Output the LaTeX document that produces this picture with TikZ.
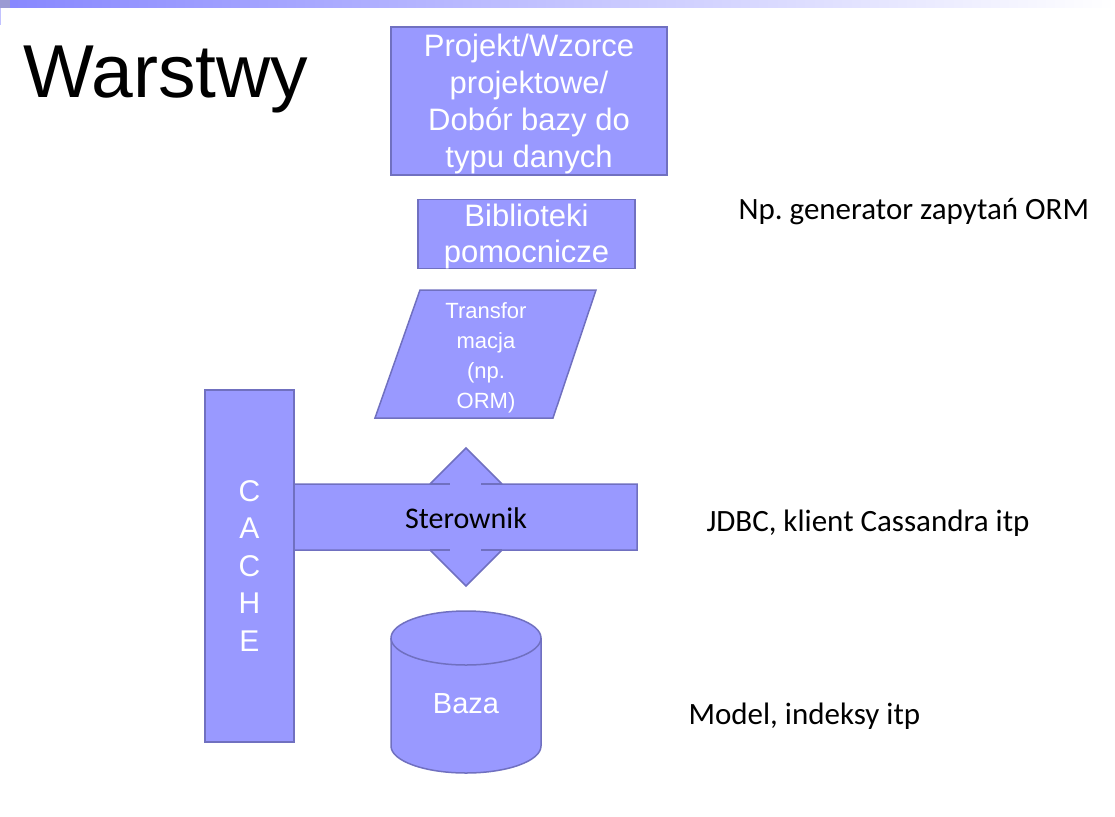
\documentclass[tikz,border=0pt]{standalone}
\usepackage{fontspec}
\setmainfont{Liberation Sans}
\newfontfamily\calibri{Carlito}
\usetikzlibrary{positioning}
\definecolor{warstwa}{RGB}{153,153,255}
\definecolor{ramka}{RGB}{112,112,192}
\tikzset{
    blok/.style={draw=ramka, fill=warstwa, line width=1.5pt, text=white, align=center, inner sep=0pt},
    napis/.style={text=white, align=center, inner sep=0pt},
    opis/.style={font=\calibri\fontsize{31}{36}\selectfont, anchor=west},
}
\frenchspacing
\begin{document}
\begin{tikzpicture}[x=1pt, y=-1pt]
    \useasboundingbox (0,0) rectangle (1115,816);
    % pasek u góry
    \shade[left color=warstwa!80!blue!90, right color=white] (10,0) rectangle (1115,8);
    \fill[ramka!70] (0,0) rectangle (10,8);
    \draw[warstwa!60, line width=1pt] (0.5,8) -- (0.5,25);

    % tytuł
    \node[anchor=base west, font=\fontsize{75}{75}\selectfont] (tytul) at (20,97) {Warstwy};

    % warstwy górne
    \node[blok, minimum width=276pt, minimum height=148pt] (projekt) at (529,101) {};
    \node[napis, font=\fontsize{31}{37}\selectfont] (projekt tekst) at (529,104)
        {Projekt/Wzorce\\projektowe/\\Dobór bazy do\\typu danych};
    \node[blok, minimum width=217pt, minimum height=69pt] (biblioteki) at (526.5,234) {};
    \node[napis, font=\fontsize{31}{36}\selectfont] (biblioteki tekst) at (526.5,236)
        {Biblioteki\\pomocnicze};

    % transformacja
    \draw[blok] (420,290) -- (596,290) -- (553,418) -- (375,418) -- cycle;
    \node[napis, font=\fontsize{22}{30}\selectfont] (transformacja) at (486,358)
        {Transfor\\macja\\(np.\\ORM)};

    % sterownik ze strzałką w obie strony
    \draw[blok] (294,484) -- (430,484) -- (466,448) -- (502,484) -- (637,484) -- (637,550)
        -- (502,550) -- (466,586) -- (430,550) -- (294,550) -- cycle;
    \foreach \y in {484,550} {
        \draw[ramka, line width=1.5pt] (430,\y) -- (450,\y);
        \draw[ramka, line width=1.5pt] (481,\y) -- (502,\y);
    }
    \node[font=\calibri\fontsize{30}{30}\selectfont] (sterownik) at (466,518) {Sterownik};

    % cache
    \node[blok, minimum width=89pt, minimum height=352pt, font=\fontsize{30}{37.5}\selectfont] (cache) at (249.5,566)
        {C\\A\\C\\H\\E};

    % baza
    \fill[warstwa] (391,638) -- (391,746) arc[start angle=180, end angle=0, x radius=75, y radius=27]
        -- (541,638) arc[start angle=0, end angle=-180, x radius=75, y radius=27] -- cycle;
    \draw[ramka, line width=1.5pt] (391,638) -- (391,746) arc[start angle=180, end angle=0, x radius=75, y radius=27]
        -- (541,638);
    \draw[ramka, line width=1.5pt] (466,638) ellipse[x radius=75, y radius=27];
    \node[napis, font=\fontsize{29}{29}\selectfont] (baza) at (466,704) {Baza};

    % opisy
    \node[opis] (orm) at (735,212) {Np. generator zapytań ORM};
    \node[opis] (jdbc) at (703,523) {JDBC, klient Cassandra itp};
    \node[opis] (model) at (685,716) {Model, indeksy itp};
\end{tikzpicture}
\end{document}
